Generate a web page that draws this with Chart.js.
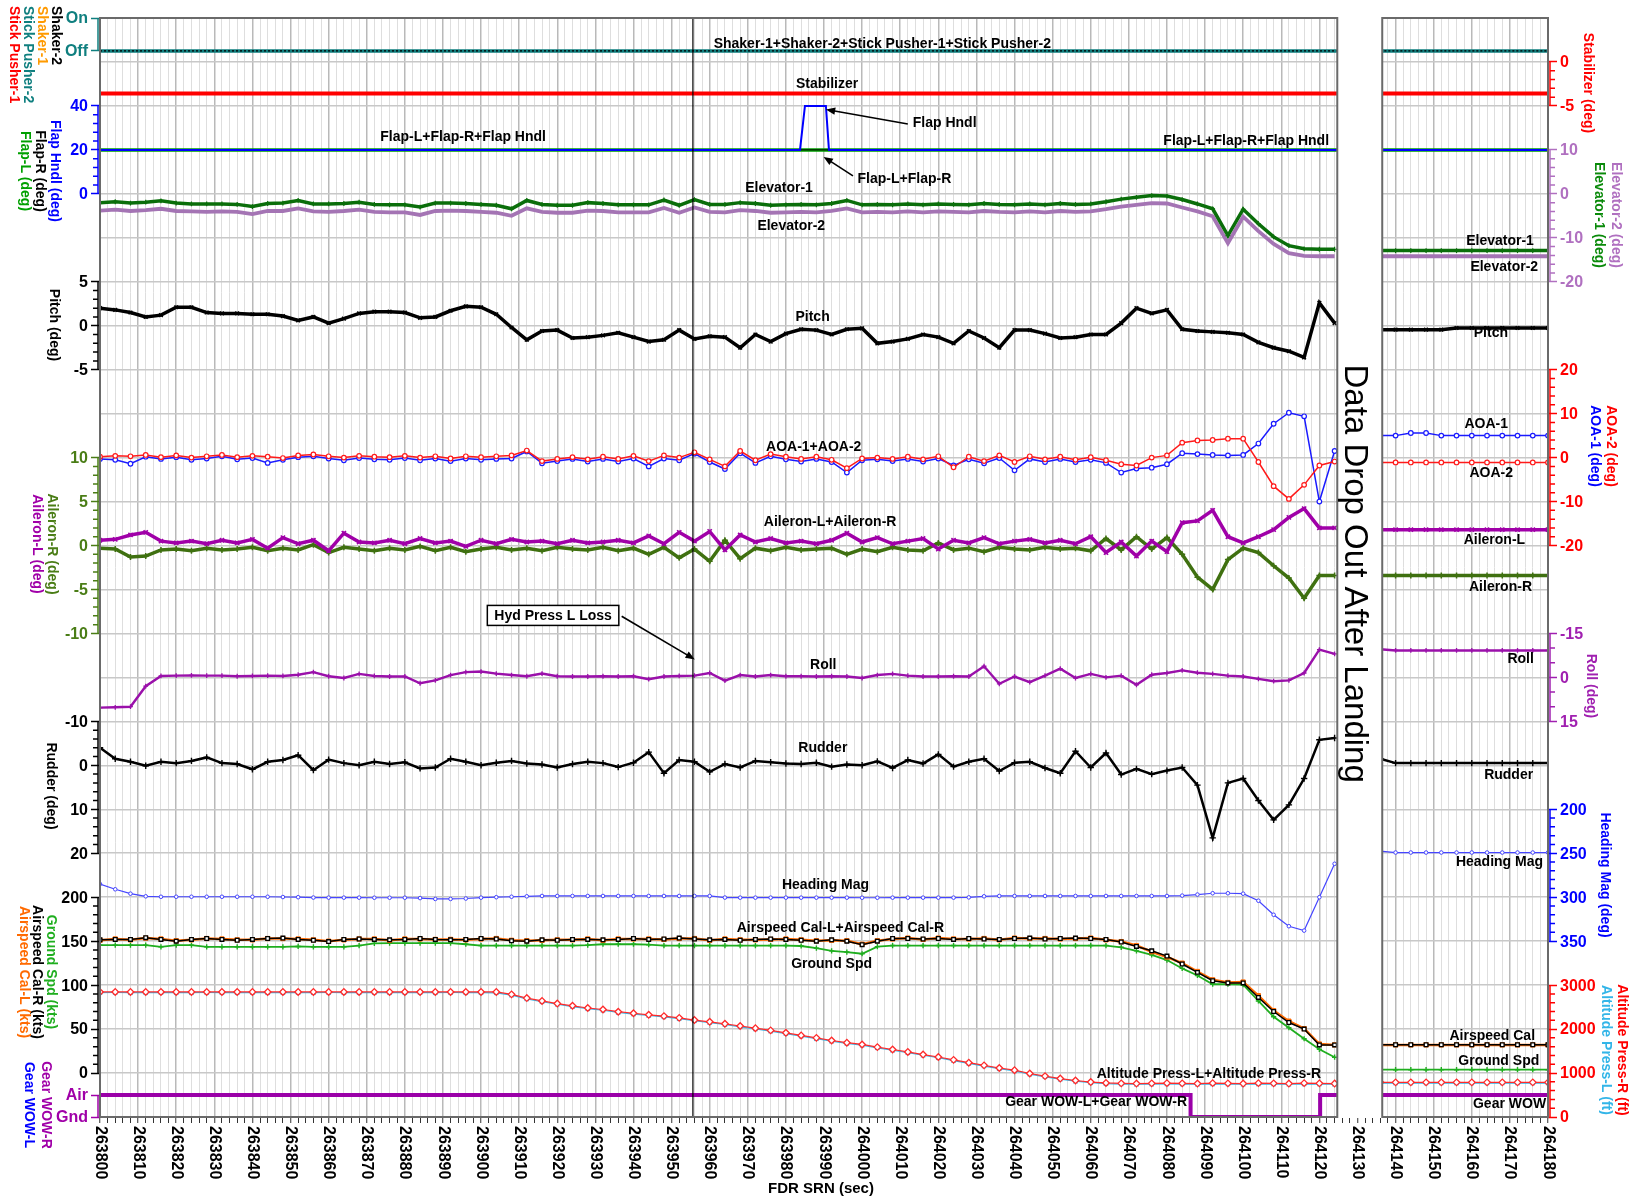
<!DOCTYPE html>
<html>
<head>
<meta charset="utf-8">
<title>FDR SRN time history</title>
<script src="https://cdn.jsdelivr.net/npm/chart.js@4.4.1/dist/chart.umd.min.js"></script>
<style>
  html, body { margin: 0; padding: 0; background: #fff; overflow: hidden; }
  canvas { display: block; }
</style>
</head>
<body>
<canvas id="fdr" width="1637" height="1201"></canvas>
<script>
// ---- time base (FDR SRN, seconds) ----
const X_MIN = 263800, X_MAX = 264180;
const GAP = [264124.7, 264136.5];               // recorder drop-out between the two panels
const HYD_LOSS_SEC = 263955.6;                  // Hyd Press L Loss event
const LEFT_SECS = Array.from({length: 82}, (_, i) => 263800 + 4 * i);
const TAIL_SECS = [264136, 264140, 264144, 264148, 264152, 264156, 264160, 264164, 264168, 264172, 264176, 264180];
const LEFT_SPAN = [263800, 264124.7];
const TAIL_SPAN = [264136, 264180];
const X_TICKS = Array.from({length: 191}, (_, i) => 263800 + 2 * i);
const ROW_LINES = Array.from({length: 26}, (_, i) => i);

// ---- discretes ----
const shakerState = [0, 0];
const pusherState = [0, 0];
const gearSecs = [263800, 264086.2, 264120.2, 264124.7];
const gearWowR = [1, 0, 1, 1];
const gearWowL = [1, 0, 1, 1];
const gearTail = [1, 1];

// ---- stabilizer / flaps (deg) ----
const stabilizerDeg = [-3.6, -3.6];
const stabilizerTail = [-3.6, -3.6];
const flapHndlSecs = [263800, 263983.7, 263985.0, 263990.5, 263991.3, 264124.7];
const flapHndlDeg = [20, 20, 40, 40, 20, 20];
const flapLDeg = [20, 20];
const flapRDeg = [20, 20];
const flapTail = [20, 20];

// ---- elevators (deg) ----
const elevator1 = [-2.0,-1.8,-2.1,-1.9,-1.6,-2.1,-2.3,-2.3,-2.3,-2.4,
  -2.9,-2.2,-2.1,-1.5,-2.3,-2.3,-2.2,-1.9,-2.4,-2.5,
  -2.5,-3.0,-2.1,-2.1,-2.2,-2.4,-2.6,-3.4,-1.5,-2.4,
  -2.6,-2.6,-2.0,-2.2,-2.5,-2.5,-2.5,-1.4,-2.6,-1.3,
  -2.4,-2.4,-2.0,-2.2,-2.6,-2.5,-2.4,-2.5,-2.2,-1.5,
  -2.5,-2.4,-2.5,-2.3,-2.5,-2.3,-2.4,-2.5,-2.2,-2.4,
  -2.5,-2.3,-2.5,-2.2,-2.4,-2.3,-1.8,-1.2,-0.8,-0.4,
  -0.5,-1.3,-2.3,-3.4,-9.5,-3.5,-6.8,-9.8,-11.8,-12.5,
  -12.6,-12.6];
const elevator2 = [-3.8,-3.6,-3.9,-3.7,-3.4,-3.9,-4.0,-4.1,-4.0,-4.1,
  -4.6,-3.9,-3.9,-3.3,-4.0,-4.1,-3.9,-3.6,-4.1,-4.2,
  -4.2,-4.8,-3.9,-3.8,-3.9,-4.1,-4.3,-5.0,-3.3,-4.1,
  -4.3,-4.3,-3.8,-3.9,-4.2,-4.2,-4.2,-3.2,-4.3,-3.1,
  -4.1,-4.2,-3.7,-3.9,-4.3,-4.2,-4.1,-4.2,-3.9,-3.3,
  -4.2,-4.1,-4.2,-4.0,-4.2,-4.0,-4.1,-4.2,-3.9,-4.1,
  -4.2,-4.0,-4.2,-3.9,-4.1,-4.0,-3.5,-2.9,-2.5,-2.1,
  -2.2,-3.1,-4.0,-5.1,-11.2,-5.2,-8.5,-11.4,-13.5,-14.1,
  -14.2,-14.2];
const elevator1Tail = [-12.9,-12.9,-12.9,-12.9,-12.9,-12.9,-12.9,-12.9,-12.9,-12.9,-12.9,-12.9];
const elevator2Tail = [-14.2,-14.2,-14.2,-14.2,-14.2,-14.2,-14.2,-14.2,-14.2,-14.2,-14.2,-14.2];

// ---- pitch (deg) ----
const pitchDeg = [2.0,1.8,1.5,1.0,1.2,2.1,2.1,1.5,1.4,1.4,
  1.3,1.3,1.1,0.6,1.0,0.3,0.8,1.4,1.6,1.6,
  1.5,0.9,1.0,1.7,2.2,2.1,1.3,-0.2,-1.6,-0.6,
  -0.5,-1.4,-1.3,-1.1,-0.8,-1.3,-1.8,-1.6,-0.5,-1.5,
  -1.2,-1.3,-2.5,-1.0,-1.8,-0.9,-0.4,-0.5,-1.0,-0.4,
  -0.3,-2.0,-1.8,-1.5,-1.0,-1.3,-2.0,-0.6,-1.4,-2.5,
  -0.5,-0.5,-0.9,-1.4,-1.3,-1.0,-1.0,0.3,2.0,1.4,
  1.8,-0.4,-0.6,-0.7,-0.8,-1.0,-1.9,-2.5,-2.9,-3.6,
  2.6,0.3];
const pitchTail = [-0.45,-0.45,-0.45,-0.45,-0.45,-0.26,-0.26,-0.26,-0.26,-0.26,-0.26,-0.26];

// ---- angle of attack (deg) ----
const aoa1Deg = [-0.3,-0.5,-1.4,0.2,-0.3,0.1,-0.5,-0.2,0.3,-0.4,
  -0.1,-1.2,-0.5,0.1,0.3,-0.2,-0.6,-0.1,-0.4,-0.5,
  -0.1,-0.6,-0.2,-0.8,-0.2,-0.5,-0.3,-0.2,1.4,-1.3,
  -0.8,-0.3,-0.9,-0.3,-0.9,-0.2,-2.0,-0.2,-0.6,0.9,
  -1.0,-2.6,1.0,-1.2,0.3,-0.4,-0.9,-0.3,-1.0,-3.4,
  -0.6,-0.4,-0.8,-0.3,-0.9,-0.2,-1.8,-0.4,-1.3,-0.1,
  -2.9,-0.3,-1.0,-0.3,-1.0,-0.5,-1.2,-3.4,-2.5,-2.3,
  -1.5,1.0,0.8,0.6,0.5,0.6,3.2,7.7,10.2,9.4,
  -10.0,1.5];
const aoa2Deg = [0.2,0.4,0.3,0.6,0.1,0.5,0.0,0.3,0.6,0.1,
  0.4,0.2,-0.1,0.5,0.7,0.3,0.0,0.4,0.2,0.1,
  0.4,0.0,0.3,-0.2,0.3,0.1,0.3,0.5,1.6,-0.8,
  -0.3,0.1,-0.4,0.2,-0.3,0.4,-0.8,0.5,0.0,1.2,
  -0.4,-2.0,1.5,-0.6,0.8,0.2,-0.3,0.2,-0.5,-2.4,
  -0.2,0.0,-0.3,0.2,-0.4,0.3,-2.2,0.2,-0.8,0.5,
  -1.0,0.3,-0.4,0.2,-0.5,0.1,-0.6,-1.5,-1.8,0.0,
  0.5,3.4,3.9,4.0,4.3,4.3,-1.0,-6.5,-9.4,-6.2,
  -1.8,-0.9];
const aoa1Tail = [5.0,5.0,5.6,5.6,5.0,5.0,5.0,5.0,5.0,5.0,5.0,5.0];
const aoa2Tail = [-1.1,-1.1,-1.1,-1.1,-1.1,-1.1,-1.1,-1.1,-1.1,-1.1,-1.1,-1.1];

// ---- ailerons (deg) ----
const aileronL = [0.6,0.7,1.2,1.5,0.5,0.3,0.5,0.2,0.6,0.3,
  0.7,-0.3,0.9,0.2,0.6,-0.6,1.4,0.4,0.3,0.6,
  0.2,0.8,0.3,0.5,-0.1,0.6,0.2,0.7,0.4,0.5,
  0.2,0.6,0.3,0.4,0.6,0.3,1.1,0.2,1.5,0.5,
  1.6,-0.5,1.2,0.4,0.8,0.3,0.5,0.2,0.6,1.4,
  0.4,0.9,0.2,0.5,0.8,-0.4,0.6,0.3,0.9,0.2,
  0.5,0.7,0.3,0.6,0.2,1.0,-0.8,0.4,-1.2,0.5,
  -0.7,2.6,2.8,4.0,1.0,0.3,1.0,1.8,3.2,4.2,
  2.0,2.0];
const aileronR = [-0.3,-0.4,-1.3,-1.2,-0.5,-0.4,-0.6,-0.3,-0.5,-0.4,
  -0.2,-0.6,-0.3,-0.5,0.1,-0.8,-0.2,-0.4,-0.6,-0.3,
  -0.5,-0.1,-0.6,-0.2,-0.7,-0.4,-0.2,-0.5,-0.3,-0.6,
  -0.2,-0.4,-0.5,-0.2,-0.6,-0.3,-1.0,-0.2,-1.4,-0.4,
  -1.8,0.6,-1.5,-0.3,-0.6,-0.2,-0.5,-0.4,-0.3,-1.0,
  -0.4,-0.7,-0.2,-0.5,-0.6,0.3,-0.5,-0.3,-0.7,-0.2,
  -0.4,-0.5,-0.2,-0.4,-0.3,-0.6,0.8,-0.5,1.0,-0.4,
  0.9,-1.0,-3.6,-5.0,-1.6,-0.3,-0.8,-2.3,-3.7,-6.0,
  -3.4,-3.4];
const aileronLTail = [1.8,1.8,1.8,1.8,1.8,1.8,1.8,1.8,1.8,1.8,1.8,1.8];
const aileronRTail = [-3.4,-3.4,-3.4,-3.4,-3.4,-3.4,-3.4,-3.4,-3.4,-3.4,-3.4,-3.4];

// ---- roll (deg) ----
const rollDeg = [10.3,10.2,10.0,3.0,-0.5,-0.6,-0.7,-0.6,-0.6,-0.4,
  -0.5,-0.6,-0.5,-0.9,-1.8,-0.4,0.2,-1.2,-0.5,-0.3,
  -0.3,2.0,1.0,-0.8,-1.8,-2.0,-1.3,-0.8,-0.4,-1.3,
  -0.4,-0.3,-0.3,-0.4,-0.3,-0.4,0.6,-0.3,-0.5,-0.6,
  -1.5,1.1,-0.8,-0.3,-0.8,-0.4,-0.4,-0.3,-0.4,-0.3,
  0.2,-0.8,-1.2,-0.6,-0.3,-0.3,-0.4,-0.3,-3.8,2.2,
  -0.3,1.6,-0.6,-3.0,0.2,-1.2,0.0,-0.6,2.5,-0.9,
  -1.5,-2.4,-1.6,-1.2,-0.6,-0.3,0.5,1.3,1.0,-1.5,
  -9.5,-8.0];
const rollTail = [-9.6,-9.2,-9.2,-9.2,-9.2,-9.2,-9.2,-9.2,-9.2,-9.2,-9.2,-9.2];

// ---- rudder (deg) ----
const rudderDeg = [-4.0,-1.5,-0.8,0.1,-0.8,-0.5,-1.0,-1.8,-0.5,-0.3,
  0.9,-0.8,-1.2,-2.3,1.1,-1.3,-0.5,0.0,-0.8,-0.3,
  -0.7,0.7,0.5,-1.5,-0.8,0.0,-0.6,-1.0,-0.4,-0.2,
  0.5,-0.3,-0.8,-0.5,0.4,-0.6,-3.0,1.8,-1.2,-0.8,
  1.5,-0.3,0.5,-1.0,-0.7,-0.4,-0.3,-0.6,0.3,-0.2,
  0.0,-0.9,0.6,-1.2,-0.4,-2.5,0.3,-0.8,-1.5,1.3,
  -0.6,-0.8,0.6,1.8,-3.2,0.5,-2.8,2.1,0.8,2.0,
  1.2,0.5,4.5,16.5,4.0,3.0,8.0,12.4,9.0,3.0,
  -5.8,-6.2];
const rudderTail = [-1.5,-0.5,-0.5,-0.5,-0.5,-0.5,-0.5,-0.5,-0.5,-0.5,-0.5,-0.5];

// ---- heading (deg) ----
const headingMag = [285,291,296,299,299.5,299.5,299.5,299.5,299.5,299.5,
  299.5,299.5,299.8,300,300.4,300.5,300.5,300.5,300.6,300.6,
  300.6,301,302,302,301.5,300.5,300,299.5,299,298.6,
  298.6,298.6,298.6,298.6,298.6,298.6,298.6,298.6,298.6,298.6,
  298.6,300.4,300.5,300.5,300.5,300.5,300.5,300.5,300.5,300.5,
  300.6,300.6,300.5,300.5,300.5,300.5,300.5,300.2,299,298.6,
  298.6,298.6,298.6,298.6,298.6,298.6,298.6,298.6,298.6,298.6,
  298.6,298.2,297,295.5,295.5,296,304,320,333,338,
  300,262];
const headingTail = [247.5,249.2,249.2,249.2,249.2,249.2,249.2,249.2,249.2,249.2,249.2,249.2];

// ---- speeds (kts) ----
const airspeedCalR = [151.5,152,152,154,152,150,152,153,152,151,
  152,153,153.5,152,151,149.5,152,152.5,152,151.5,
  152,153,152,151.5,152,153,152.5,150.5,150,151.5,
  151,152,152,151.5,152,153,152,152.5,153.5,152.5,
  151.5,152,151,152,152.5,152,151,150,151.5,150,
  146,150,153,153,152.5,153,152,153,152.5,152,
  153,153.5,152.5,153,153.5,153,152,149,144,139,
  133,124,114.5,105,102.5,102.5,86,70,57.5,50,
  32,32];
const airspeedCalL = [151,152.5,151.5,153.5,152.5,150.5,151.5,153,152.5,151.5,
  151.5,153,153,152.5,151.5,150,151.5,152.5,152.5,151,
  152.5,152.5,152,152,151.5,152.5,153,151,150.5,151,
  151.5,151.5,152.5,151,152.5,152.5,152.5,152,153,153,
  151,152.5,151.5,151.5,152,152.5,151.5,150.5,151,150.5,
  146.5,150.5,152.5,153.5,152,153.5,152.5,152.5,153,151.5,
  153.5,153,153,152.5,153,153.5,151.5,149.5,145,138,
  132,125,115.5,106,103,103.5,88,71,59,50.5,
  33,32];
const groundSpd = [145.5,145.5,145.5,145.5,143.6,145.5,145.5,143.6,143.6,143.6,
  143.6,143.6,143.6,144,143.6,143.6,143.6,145,147.5,147.7,
  147.7,147.7,147.7,147.7,146.5,145,145,145,145,145,
  145,145,145.5,146.5,146.5,146.5,146,145,145,145,
  145,145,145,145,145,145,144.5,142,139,137.6,
  135.7,143.8,145,145,145,145,145,145,145,145,
  145,145,145,145,145,145,145,143,139,134.5,
  128.5,119,111,101,101,100.5,82,64,51.5,39,
  27,18];
const airspeedTail = [32.2,32.2,32.2,32.2,32.2,32.2,32.2,32.2,32.2,32.2,32.2,32.2];
const airspeedLTail = [32.0,32.0,32.0,32.0,32.0,32.0,32.0,32.0,32.0,32.0,32.0,32.0];
const groundSpdTail = [3.8,3.8,3.8,3.8,3.8,3.8,3.8,3.8,3.8,3.8,3.8,3.8];

// ---- pressure altitude (ft) ----
const altPressR = [2845,2845,2845,2845,2845,2845,2845,2845,2845,2845,
  2845,2845,2845,2845,2845,2845,2845,2845,2845,2845,
  2845,2845,2845,2845,2845,2845,2845,2790,2705,2640,
  2580,2530,2480,2445,2395,2360,2325,2295,2255,2205,
  2165,2120,2070,2020,1970,1915,1855,1800,1740,1690,
  1650,1590,1535,1480,1420,1365,1300,1235,1175,1115,
  1065,990,930,875,830,795,775,765,760,765,
  770,765,760,770,765,760,770,765,760,770,
  765,760];
const altPressL = [2830,2832,2828,2830,2831,2829,2830,2832,2829,2830,
  2831,2830,2829,2831,2830,2832,2829,2830,2831,2830,
  2829,2831,2830,2832,2829,2830,2825,2772,2688,2622,
  2565,2512,2466,2428,2380,2342,2310,2278,2238,2190,
  2148,2104,2052,2003,1953,1898,1840,1783,1724,1675,
  1633,1574,1518,1463,1404,1349,1284,1220,1159,1100,
  1048,975,914,860,814,780,758,750,745,748,
  752,750,746,752,749,745,752,750,746,752,
  749,745];
const altPressRTail = [788,788,788,788,788,788,788,788,788,788,788,788];
const altPressLTail = [772,772,772,772,772,772,772,772,772,772,772,772];

// ---- axis tick values ----
const onOffTicks = [0, 1];
const flapTicks = [0, 20, 40];
const pitchTicks = [-5, 0, 5];
const aileronTicks = [-10, -5, 0, 5, 10];
const rudderTicks = [-10, 0, 10, 20];
const speedTicks = [0, 50, 100, 150, 200];
const gearTicks = [0, 1];
const stabTicks = [-5, 0];
const elevTicks = [-20, -10, 0, 10];
const aoaTicks = [-20, -10, 0, 10, 20];
const rollTicks = [-15, 0, 15];
const headingTicks = [200, 250, 300, 350];
const altTicks = [0, 1000, 2000, 3000];

const FONT = '"Liberation Sans", Arial, Helvetica, sans-serif';
Chart.defaults.font.family = FONT;

// Each trace band gets its own axis; all share the full plot height.
const AXES = {
  yOnOff:  {pos: 'left',  color: '#0f7f7f', min: -32.3333, max: 1, ticks: onOffTicks, names: {0: 'Off', 1: 'On'}},
  yFlap:   {pos: 'left',  color: '#0000ff', min: -420, max: 80, ticks: flapTicks, minor: 4},
  yPitch:  {pos: 'left',  color: '#000000', min: -90, max: 35, ticks: pitchTicks, minor: 1},
  yAil:    {pos: 'left',  color: '#4a7d16', min: -65, max: 60, ticks: aileronTicks, minor: 1},
  yRud:    {pos: 'left',  color: '#000000', min: -170, max: 80, reverse: true, ticks: rudderTicks, minor: 2},
  ySpd:    {pos: 'left',  color: '#000000', min: -50, max: 1200, ticks: speedTicks, minor: 10},
  yGear:   {pos: 'left',  color: '#a000a8', min: 0, max: 50, ticks: gearTicks, names: {0: 'Gnd', 1: 'Air'}},
  yStab:   {pos: 'right', color: '#ff0000', min: -120, max: 5, ticks: stabTicks, minor: 1},
  yElev:   {pos: 'right', color: '#b070c0', min: -210, max: 40, ticks: elevTicks, minor: 2},
  yAoa:    {pos: 'right', color: '#ff0000', min: -150, max: 100, ticks: aoaTicks, minor: 2},
  yRoll:   {pos: 'right', color: '#a020b0', min: -225, max: 150, reverse: true, ticks: rollTicks, minor: 5},
  yHdg:    {pos: 'right', color: '#0000ff', min: -700, max: 550, reverse: true, ticks: headingTicks, minor: 10},
  yAlt:    {pos: 'right', color: '#ff0000', min: 0, max: 25000, ticks: altTicks, minor: 200},
};

const scales = {
  x: {
    type: 'linear', position: 'bottom', min: X_MIN, max: X_MAX,
    afterFit: s => { s.height = 84; },
    afterBuildTicks: s => { s.ticks = X_TICKS.map(v => ({value: v})); },
    border: {display: false},
    grid: {
      color: c => (c.tick && c.tick.value % 10 === 0) ? '#b9b9b9' : '#dedede',
      lineWidth: c => (c.tick && c.tick.value % 10 === 0) ? 1.5 : 1,
      drawTicks: true, tickLength: 6, tickColor: '#333', tickWidth: 1,
    },
    ticks: {display: false},
  },
  yRows: {
    type: 'linear', axis: 'y', position: 'left', min: 0, max: 25, reverse: true,
    afterFit: s => { s.width = 0; },
    afterBuildTicks: s => { s.ticks = ROW_LINES.map(v => ({value: v})); },
    border: {display: false},
    grid: {color: '#c8c8c8', lineWidth: 1.5, drawTicks: false},
    ticks: {display: false},
  },
};
for (const [id, d] of Object.entries(AXES)) {
  scales[id] = {
    type: 'linear', axis: 'y', position: d.pos, min: d.min, max: d.max, reverse: !!d.reverse,
    afterFit: s => { s.width = 0; },
    afterBuildTicks: s => { s.ticks = d.ticks.map(v => ({value: v})); },
    border: {display: false},
    grid: {display: true, drawOnChartArea: false, drawTicks: true, tickLength: 9, tickColor: d.color, tickWidth: 1.5},
    ticks: {display: false},
  };
}

// ---- datasets ----
function pts(secs, vals) { return secs.map((t, i) => ({x: t, y: vals[i]})); }
function series(lSecs, lVals, tSecs, tVals) {
  return [...pts(lSecs, lVals), {x: (GAP[0] + GAP[1]) / 2, y: null}, ...pts(tSecs, tVals)];
}
function trace(label, yAxisID, data, color, extra) {
  return Object.assign({
    label, yAxisID, xAxisID: 'x', data,
    borderColor: color, backgroundColor: color, borderWidth: 2,
    pointRadius: 0, pointHoverRadius: 0, tension: 0, spanGaps: false, fill: false,
  }, extra || {});
}
const marks = (style, r, border, fillCol, bw) => ({pointStyle: style, pointRadius: r, pointBorderColor: border, pointBackgroundColor: fillCol, pointBorderWidth: bw || 1});

const datasets = [
  trace('Hyd Press L Loss', 'yRows', [{x: HYD_LOSS_SEC, y: 0}, {x: HYD_LOSS_SEC, y: 25}], '#000', {borderWidth: 1.2}),
  trace('Gear WOW-R', 'yGear', series(gearSecs, gearWowR, TAIL_SPAN, gearTail), '#9a00a8', {borderWidth: 4, stepped: true}),
  trace('Gear WOW-L', 'yGear', series(gearSecs, gearWowL, TAIL_SPAN, gearTail), '#0000ff', {borderWidth: 2, stepped: true}),
  trace('Altitude Press-R', 'yAlt', series(LEFT_SECS, altPressR, TAIL_SECS, altPressRTail), '#ff2a2a', Object.assign({borderWidth: 1.2}, marks('rectRot', 3.3, '#ff2a2a', '#ffffff', 1.3))),
  trace('Altitude Press-L', 'yAlt', series(LEFT_SECS, altPressL, TAIL_SECS, altPressLTail), '#33b5e8', Object.assign({borderWidth: 1.2}, marks('crossRot', 3, '#33b5e8', '#33b5e8', 1.2))),
  trace('Airspeed Cal-R', 'ySpd', series(LEFT_SECS, airspeedCalR, TAIL_SECS, airspeedTail), '#000', Object.assign({borderWidth: 1.5}, marks('rect', 2.6, '#000', '#ffffff', 1.3))),
  trace('Airspeed Cal-L', 'ySpd', series(LEFT_SECS, airspeedCalL, TAIL_SECS, airspeedLTail), '#ff6a00', Object.assign({borderWidth: 2.5}, marks('rect', 3, '#ff6a00', '#ff6a00', 1))),
  trace('Ground Spd', 'ySpd', series(LEFT_SECS, groundSpd, TAIL_SECS, groundSpdTail), '#1fae1f', Object.assign({borderWidth: 1.8}, marks('cross', 2.6, '#1fae1f', '#1fae1f', 1.4))),
  trace('Heading Mag', 'yHdg', series(LEFT_SECS, headingMag, TAIL_SECS, headingTail), '#4545ff', Object.assign({borderWidth: 1.2}, marks('circle', 1.8, '#4545ff', '#ffffff', 1))),
  trace('Rudder', 'yRud', series(LEFT_SECS, rudderDeg, TAIL_SECS, rudderTail), '#000', Object.assign({borderWidth: 2.5}, marks('cross', 3.2, '#000', '#000', 1.4))),
  trace('Roll', 'yRoll', series(LEFT_SECS, rollDeg, TAIL_SECS, rollTail), '#9a10aa', Object.assign({borderWidth: 2.4}, marks('cross', 2.4, '#9a10aa', '#9a10aa', 1.3))),
  trace('Aileron-L', 'yAil', series(LEFT_SECS, aileronL, TAIL_SECS, aileronLTail), '#a000a8', Object.assign({borderWidth: 3.5}, marks('crossRot', 3, '#a000a8', '#a000a8', 1.5))),
  trace('Aileron-R', 'yAil', series(LEFT_SECS, aileronR, TAIL_SECS, aileronRTail), '#3f7010', Object.assign({borderWidth: 3.5}, marks('cross', 3, '#3f7010', '#3f7010', 1.5))),
  trace('AOA-2', 'yAoa', series(LEFT_SECS, aoa2Deg, TAIL_SECS, aoa2Tail), '#ff1a1a', Object.assign({borderWidth: 1.5}, marks('circle', 2.3, '#ff1a1a', '#ffffff', 1.2))),
  trace('AOA-1', 'yAoa', series(LEFT_SECS, aoa1Deg, TAIL_SECS, aoa1Tail), '#1a1aff', Object.assign({borderWidth: 1.5}, marks('circle', 2.3, '#1a1aff', '#ffffff', 1.2))),
  trace('Pitch', 'yPitch', series(LEFT_SECS, pitchDeg, TAIL_SECS, pitchTail), '#000', Object.assign({borderWidth: 3.5}, marks('crossRot', 2.6, '#000', '#000', 1.4))),
  trace('Elevator-1', 'yElev', series(LEFT_SECS, elevator1, TAIL_SECS, elevator1Tail), '#0a6e0a', Object.assign({borderWidth: 3.5}, marks('cross', 2.4, '#0a6e0a', '#0a6e0a', 1.2))),
  trace('Elevator-2', 'yElev', series(LEFT_SECS, elevator2, TAIL_SECS, elevator2Tail), '#a474b4', {borderWidth: 3.8}),
  trace('Flap Hndl', 'yFlap', series(flapHndlSecs, flapHndlDeg, TAIL_SPAN, flapTail), '#0000ff', {borderWidth: 2}),
  trace('Flap-R', 'yFlap', series(LEFT_SPAN, flapRDeg, TAIL_SPAN, flapTail), '#000', {borderWidth: 1}),
  trace('Flap-L', 'yFlap', series(LEFT_SPAN, flapLDeg, TAIL_SPAN, flapTail), '#00a000', {borderWidth: 3.5}),
  trace('Stabilizer', 'yStab', series(LEFT_SPAN, stabilizerDeg, TAIL_SPAN, stabilizerTail), '#ff0000', {borderWidth: 4}),
  trace('Shaker-2', 'yOnOff', series(LEFT_SPAN, shakerState, TAIL_SPAN, shakerState), '#000', {borderWidth: 1.3, borderDash: [2, 2]}),
  trace('Stick Pusher-2', 'yOnOff', series(LEFT_SPAN, pusherState, TAIL_SPAN, pusherState), '#0f7f7f', {borderWidth: 3.4}),
  trace('Shaker-1', 'yOnOff', series(LEFT_SPAN, shakerState, TAIL_SPAN, shakerState), '#ff9a00', {borderWidth: 2}),
  trace('Stick Pusher-1', 'yOnOff', series(LEFT_SPAN, pusherState, TAIL_SPAN, pusherState), '#ff0000', {borderWidth: 2}),
];

// ---- text drawn on the plot: [text, sec, row, align] (rows count gridlines from the top) ----
const TRACE_LABELS = [
  ['Shaker-1+Shaker-2+Stick Pusher-1+Stick Pusher-2', 264005.3, 0.59, 'center'],
  ['Stabilizer', 263990.8, 1.51, 'center'],
  ['Flap-L+Flap-R+Flap Hndl', 263895.3, 2.72, 'center'],
  ['Flap-L+Flap-R+Flap Hndl', 264100.8, 2.80, 'center'],
  ['Flap Hndl', 264013.3, 2.39, 'left'],
  ['Flap-L+Flap-R', 263998.8, 3.66, 'left'],
  ['Elevator-1', 263978.2, 3.88, 'center'],
  ['Elevator-2', 263981.4, 4.73, 'center'],
  ['Pitch', 263987.0, 6.81, 'center'],
  ['AOA-1+AOA-2', 263987.3, 9.76, 'center'],
  ['Aileron-L+Aileron-R', 263991.6, 11.46, 'center'],
  ['Roll', 263989.8, 14.73, 'center'],
  ['Rudder', 263989.7, 16.60, 'center'],
  ['Heading Mag', 263990.4, 19.72, 'center'],
  ['Airspeed Cal-L+Airspeed Cal-R', 263994.3, 20.70, 'center'],
  ['Ground Spd', 263992.0, 21.53, 'center'],
  ['Altitude Press-L+Altitude Press-R', 264091.0, 24.03, 'center'],
  ['Gear WOW-L+Gear WOW-R', 264061.4, 24.66, 'center'],
  ['Elevator-1', 264176.3, 5.08, 'right'],
  ['Elevator-2', 264177.4, 5.66, 'right'],
  ['Pitch', 264169.5, 7.17, 'right'],
  ['AOA-1', 264169.5, 9.23, 'right'],
  ['AOA-2', 264170.8, 10.35, 'right'],
  ['Aileron-L', 264174.0, 11.88, 'right'],
  ['Aileron-R', 264175.8, 12.94, 'right'],
  ['Roll', 264176.3, 14.58, 'right'],
  ['Rudder', 264176.1, 17.23, 'right'],
  ['Heading Mag', 264178.7, 19.20, 'right'],
  ['Airspeed Cal', 264176.6, 23.17, 'right'],
  ['Ground Spd', 264177.7, 23.74, 'right'],
  ['Gear WOW', 264179.5, 24.70, 'right'],
];
const POINTERS = [
  [[264012.0, 2.41], [263990.5, 2.08]],
  [[263997.6, 3.59], [263989.9, 3.16]],
  [[263936.9, 13.61], [263956.1, 14.59]],
];
const EVENT_BOX = ['Hyd Press L Loss', 263918.9, 13.59];
const DROP_OUT = ['Data Drop Out After Landing', 264129.1, 12.64];

// ---- rotated axis titles: [text, colour, x, y, align] ----
const AXIS_TITLES = [
  ['Shaker-2', '#000000', 56, 6, 'left'],
  ['Shaker-1', '#ff9a00', 42, 6, 'left'],
  ['Stick Pusher-2', '#0f7f7f', 28, 6, 'left'],
  ['Stick Pusher-1', '#ff0000', 14, 6, 'left'],
  ['Flap Hndl (deg)', '#0000ff', 55, 171, 'center'],
  ['Flap-R (deg)', '#000000', 40, 171, 'center'],
  ['Flap-L (deg)', '#00a000', 25, 171, 'center'],
  ['Pitch (deg)', '#000000', 54, 325, 'center'],
  ['Aileron-R (deg)', '#4a7d16', 52, 544, 'center'],
  ['Aileron-L (deg)', '#a000a8', 37, 544, 'center'],
  ['Rudder (deg)', '#000000', 51, 786, 'center'],
  ['Ground Spd (kts)', '#1fae1f', 51, 972, 'center'],
  ['Airspeed Cal-R (kts)', '#000000', 37, 972, 'center'],
  ['Airspeed Cal-L (kts)', '#ff6a00', 24, 972, 'center'],
  ['Gear WOW-R', '#a000a8', 46, 1105, 'center'],
  ['Gear WOW-L', '#0000ff', 29, 1105, 'center'],
  ['Stabilizer (deg)', '#ff0000', 1588, 83, 'center'],
  ['Elevator-2 (deg)', '#b070c0', 1616, 215, 'center'],
  ['Elevator-1 (deg)', '#0a8a0a', 1599, 215, 'center'],
  ['AOA-2 (deg)', '#ff0000', 1611, 446, 'center'],
  ['AOA-1 (deg)', '#0000ff', 1595, 446, 'center'],
  ['Roll (deg)', '#a020b0', 1591, 686, 'center'],
  ['Heading Mag (deg)', '#0000ff', 1605, 875, 'center'],
  ['Altitude Press-R (ft)', '#ff0000', 1622, 1050, 'center'],
  ['Altitude Press-L (ft)', '#33b5e8', 1606, 1050, 'center'],
];

function rotText(ctx, text, x, y, align) {
  ctx.save();
  ctx.translate(x, y);
  ctx.rotate(Math.PI / 2);
  ctx.textAlign = align;
  ctx.textBaseline = 'middle';
  ctx.fillText(text, 0, 0);
  ctx.restore();
}

const overlay = {
  id: 'fdrOverlay',
  afterDatasetsDraw(chart) {
    const {ctx, chartArea: a, scales: sc} = chart;
    const px = t => sc.x.getPixelForValue(t);
    const py = r => sc.yRows.getPixelForValue(r);
    ctx.save();

    // blank strip where no data was recorded
    ctx.fillStyle = '#ffffff';
    ctx.fillRect(px(GAP[0]), a.top - 1, px(GAP[1]) - px(GAP[0]), a.bottom - a.top + 2);

    // panel frames
    ctx.strokeStyle = '#6a6a6a';
    ctx.lineWidth = 2;
    ctx.strokeRect(px(X_MIN), a.top, px(GAP[0]) - px(X_MIN), a.bottom - a.top);
    ctx.strokeRect(px(GAP[1]), a.top, px(X_MAX) - px(GAP[1]), a.bottom - a.top);

    // axis spines over each band, minor ticks and tick labels
    for (const [id, d] of Object.entries(AXES)) {
      const s = sc[id];
      const lo = Math.min(...d.ticks), hi = Math.max(...d.ticks);
      const left = d.pos === 'left';
      const x0 = left ? a.left - 2 : a.right + 2;
      const dir = left ? -1 : 1;
      ctx.strokeStyle = d.color;
      ctx.lineWidth = 1.5;
      ctx.beginPath();
      ctx.moveTo(x0, s.getPixelForValue(lo));
      ctx.lineTo(x0, s.getPixelForValue(hi));
      if (d.minor) {
        const n = Math.round((hi - lo) / d.minor);
        for (let k = 1; k < n; k++) {
          const v = lo + k * d.minor;
          if (d.ticks.some(t => Math.abs(t - v) < 1e-6)) continue;
          const y = s.getPixelForValue(v);
          ctx.moveTo(x0, y);
          ctx.lineTo(x0 + dir * 5, y);
        }
      }
      ctx.stroke();

      ctx.fillStyle = d.color;
      ctx.font = 'bold 16px ' + FONT;
      ctx.textBaseline = 'middle';
      ctx.textAlign = left ? 'right' : 'left';
      for (const v of d.ticks) {
        const label = d.names ? d.names[v] : String(v);
        ctx.fillText(label, left ? a.left - 12 : a.right + 12, s.getPixelForValue(v) + 1);
      }
    }

    // trace names
    ctx.fillStyle = '#000';
    ctx.font = 'bold 14px ' + FONT;
    ctx.textBaseline = 'middle';
    for (const [text, t, r, align] of TRACE_LABELS) {
      ctx.textAlign = align;
      ctx.fillText(text, px(t), py(r));
    }

    // pointer arrows
    ctx.strokeStyle = '#000';
    ctx.fillStyle = '#000';
    ctx.lineWidth = 1.6;
    for (const [[t1, r1], [t2, r2]] of POINTERS) {
      const x1 = px(t1), y1 = py(r1), x2 = px(t2), y2 = py(r2);
      const ang = Math.atan2(y2 - y1, x2 - x1);
      ctx.beginPath();
      ctx.moveTo(x1, y1);
      ctx.lineTo(x2 - 6 * Math.cos(ang), y2 - 6 * Math.sin(ang));
      ctx.stroke();
      ctx.beginPath();
      ctx.moveTo(x2, y2);
      ctx.lineTo(x2 - 10 * Math.cos(ang - 0.38), y2 - 10 * Math.sin(ang - 0.38));
      ctx.lineTo(x2 - 10 * Math.cos(ang + 0.38), y2 - 10 * Math.sin(ang + 0.38));
      ctx.closePath();
      ctx.fill();
    }

    // event callout box
    {
      const [text, t, r] = EVENT_BOX;
      const cx = px(t), cy = py(r);
      ctx.font = 'bold 14px ' + FONT;
      const w = ctx.measureText(text).width + 14;
      ctx.fillStyle = '#fff';
      ctx.fillRect(cx - w / 2, cy - 10, w, 20);
      ctx.strokeStyle = '#000';
      ctx.lineWidth = 1.5;
      ctx.strokeRect(cx - w / 2, cy - 10, w, 20);
      ctx.fillStyle = '#000';
      ctx.textAlign = 'center';
      ctx.fillText(text, cx, cy + 1);
    }

    // drop-out note
    ctx.fillStyle = '#000';
    ctx.font = '33px ' + FONT;
    rotText(ctx, DROP_OUT[0], px(DROP_OUT[1]), py(DROP_OUT[2]), 'center');

    // axis titles
    ctx.font = 'bold 14px ' + FONT;
    for (const [text, color, x, y, align] of AXIS_TITLES) {
      ctx.fillStyle = color;
      rotText(ctx, text, x, y, align);
    }

    // time labels and title
    ctx.fillStyle = '#000';
    ctx.font = 'bold 16px ' + FONT;
    for (const v of X_TICKS) {
      if (v % 10 !== 0) continue;
      rotText(ctx, String(v), px(v), a.bottom + 9, 'left');
    }
    ctx.font = 'bold 15px ' + FONT;
    ctx.textAlign = 'center';
    ctx.textBaseline = 'middle';
    ctx.fillText('FDR SRN (sec)', (a.left + a.right) / 2 - 3, 1189);
    ctx.restore();
  },
};

new Chart(document.getElementById('fdr'), {
  type: 'line',
  data: {datasets},
  options: {
    responsive: false,
    animation: false,
    devicePixelRatio: 1,
    events: [],
    layout: {padding: {left: 100, right: 89, top: 18, bottom: 0}},
    plugins: {legend: {display: false}, tooltip: {enabled: false}},
    scales,
  },
  plugins: [overlay],
});
</script>
</body>
</html>
